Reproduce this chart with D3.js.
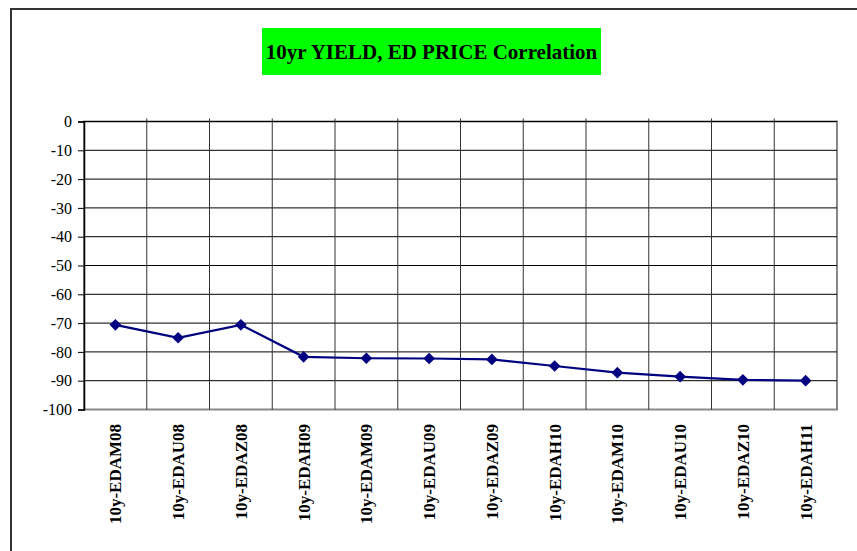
<!DOCTYPE html>
<html>
<head>
<meta charset="utf-8">
<script src="https://cdn.jsdelivr.net/npm/d3@7"></script>
<style>
  body { margin: 0; background: #fff; }
  svg { display: block; }
</style>
</head>
<body>
<div id="chart"></div>
<script>
var width = 857;
var height = 551;

var categories = ["10y-EDAM08", "10y-EDAU08", "10y-EDAZ08", "10y-EDAH09", "10y-EDAM09", "10y-EDAU09",
                  "10y-EDAZ09", "10y-EDAH10", "10y-EDAM10", "10y-EDAU10", "10y-EDAZ10", "10y-EDAH11"];
var correlation = [-70.6, -75.1, -70.6, -81.7, -82.2, -82.3, -82.6, -84.9, -87.2, -88.6, -89.7, -90.0];
var yTicks = [0, -10, -20, -30, -40, -50, -60, -70, -80, -90, -100];
var title = "10yr YIELD, ED PRICE Correlation";

var plot = { left: 84, right: 837, top: 121.5, bottom: 409.5 };
var serif = "'Liberation Serif', 'Times New Roman', serif";

var svg = d3.select("#chart").append("svg")
    .attr("width", width).attr("height", height);

// outer chart frame (runs off the right and bottom of the picture)
svg.append("rect")
    .attr("x", 11).attr("y", 9)
    .attr("width", width + 20).attr("height", height + 20)
    .attr("fill", "none")
    .attr("stroke", "#333")
    .attr("stroke-width", 2);

var x = d3.scaleBand().domain(categories).range([plot.left, plot.right]);
var y = d3.scaleLinear().domain([-100, 0]).range([plot.bottom, plot.top]);

// plot area border
svg.append("rect")
    .attr("x", plot.left).attr("y", plot.top)
    .attr("width", plot.right - plot.left).attr("height", plot.bottom - plot.top)
    .attr("fill", "none")
    .attr("stroke", "#888")
    .attr("stroke-width", 2);

// horizontal gridlines
svg.selectAll(".hgrid").data(yTicks.slice(0, -1)).enter().append("line")
    .attr("class", "hgrid")
    .attr("x1", plot.left).attr("x2", plot.right)
    .attr("y1", function(d) { return y(d); })
    .attr("y2", function(d) { return y(d); })
    .attr("stroke", "#000")
    .attr("stroke-width", 1);

// vertical gridlines at category boundaries
svg.selectAll(".vgrid").data(categories.slice(1)).enter().append("line")
    .attr("class", "vgrid")
    .attr("x1", function(d) { return x(d); })
    .attr("x2", function(d) { return x(d); })
    .attr("y1", plot.top - 3).attr("y2", plot.bottom)
    .attr("stroke", "#333")
    .attr("stroke-width", 1);

// y axis
var yAxis = svg.append("g")
    .attr("transform", "translate(" + plot.left + ",0)")
    .call(d3.axisLeft(y).tickValues(yTicks).tickSize(6).tickPadding(6)
        .tickFormat(function(d) { return String(d); }));
yAxis.attr("font-family", serif).attr("font-size", 16);
yAxis.select(".domain").attr("stroke", "#000").attr("stroke-width", 1.5);
yAxis.selectAll(".tick line").attr("stroke", "#000");
yAxis.selectAll("text").attr("fill", "#000");

// x axis labels, rotated
var xAxis = svg.append("g")
    .attr("transform", "translate(0," + plot.bottom + ")")
    .call(d3.axisBottom(x).tickSize(0).tickPadding(0));
xAxis.attr("font-family", serif).attr("font-size", 17).attr("font-weight", "bold");
xAxis.select(".domain").remove();
xAxis.selectAll("text")
    .attr("transform", "rotate(-90)")
    .attr("x", -14.5)
    .attr("y", 0)
    .attr("dy", "0.35em")
    .style("text-anchor", "end")
    .attr("fill", "#000");

// series line
var line = d3.line()
    .x(function(d, i) { return x(categories[i]) + x.bandwidth() / 2; })
    .y(function(d) { return y(d); });

svg.append("path")
    .datum(correlation)
    .attr("d", line)
    .attr("fill", "none")
    .attr("stroke", "#000080")
    .attr("stroke-width", 2.2);

// diamond markers
svg.selectAll(".marker").data(correlation).enter().append("path")
    .attr("class", "marker")
    .attr("d", d3.symbol().type(d3.symbolSquare).size(68))
    .attr("transform", function(d, i) {
        return "translate(" + (x(categories[i]) + x.bandwidth() / 2) + "," + y(d) + ") rotate(45)";
    })
    .attr("fill", "#000080");

// title with green box
svg.append("rect")
    .attr("x", 262).attr("y", 28)
    .attr("width", 339).attr("height", 47)
    .attr("fill", "#00ff00");
svg.append("text")
    .attr("x", 431.5).attr("y", 51.5)
    .attr("dy", "0.35em")
    .attr("text-anchor", "middle")
    .attr("font-family", serif)
    .attr("font-weight", "bold")
    .attr("font-size", 21)
    .text(title);
</script>
</body>
</html>
